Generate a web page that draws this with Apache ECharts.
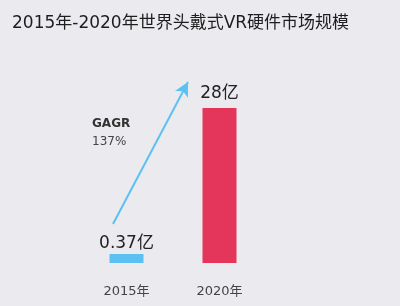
<!DOCTYPE html>
<html><head><meta charset="utf-8">
<script src="https://cdn.jsdelivr.net/npm/echarts@6/dist/echarts.min.js"></script>
<style>html,body{margin:0;padding:0;background:#ebeaef}#c{width:400px;height:306px}</style>
</head><body><div id="c"></div>
<script>
var categories = ['2015年', '2020年'];
var values = [0.37, 28];
var valueLabels = ['0.37亿', '28亿'];
var barColors = ['#5cc1f2', '#e3365a'];
var cagrTitle = 'GAGR';
var cagrValue = '137%';

var chart = echarts.init(document.getElementById('c'));
var font = '"DejaVu Sans", "Noto Sans CJK SC", sans-serif';
chart.setOption({
  backgroundColor: '#ebeaef',
  animation: false,
  title: {
    text: '2015年-2020年世界头戴式VR硬件市场规模',
    left: 7, top: 10,
    textStyle: {fontSize: 17, fontWeight: 'normal', color: '#1e1e1e', fontFamily: font}
  },
  grid: {left: 80, right: 134, top: 108, bottom: 43},
  xAxis: {
    type: 'category', data: categories,
    axisLine: {show: false}, axisTick: {show: false},
    axisLabel: {fontSize: 13, color: '#444', margin: 22, fontFamily: font}
  },
  yAxis: {type: 'value', min: 0, max: 28, show: false},
  series: [{
    type: 'bar', barWidth: 34, barMinHeight: 9,
    data: values.map(function (v, i) {
      return {
        value: v,
        itemStyle: {color: barColors[i]},
        label: {distance: i === 0 ? 2 : 6}
      };
    }),
    label: {
      show: true, position: 'top', fontSize: 17, color: '#222', fontFamily: font,
      formatter: function (p) { return valueLabels[p.dataIndex]; }
    },
    markLine: {
      silent: true,
      symbol: ['none', 'arrow'], symbolSize: [11, 14],
      lineStyle: {color: '#5cc1f2', width: 2, type: 'solid'},
      label: {show: false},
      data: [[{x: 113, y: 224}, {x: 188, y: 82}]]
    }
  }],
  graphic: [
    {type: 'text', left: 92, top: 118, style: {text: cagrTitle, fontSize: 12, fontWeight: 'bold', fill: '#333', fontFamily: font}},
    {type: 'text', left: 92, top: 136, style: {text: cagrValue, fontSize: 12, fill: '#444', fontFamily: font}}
  ]
});
</script></body></html>
